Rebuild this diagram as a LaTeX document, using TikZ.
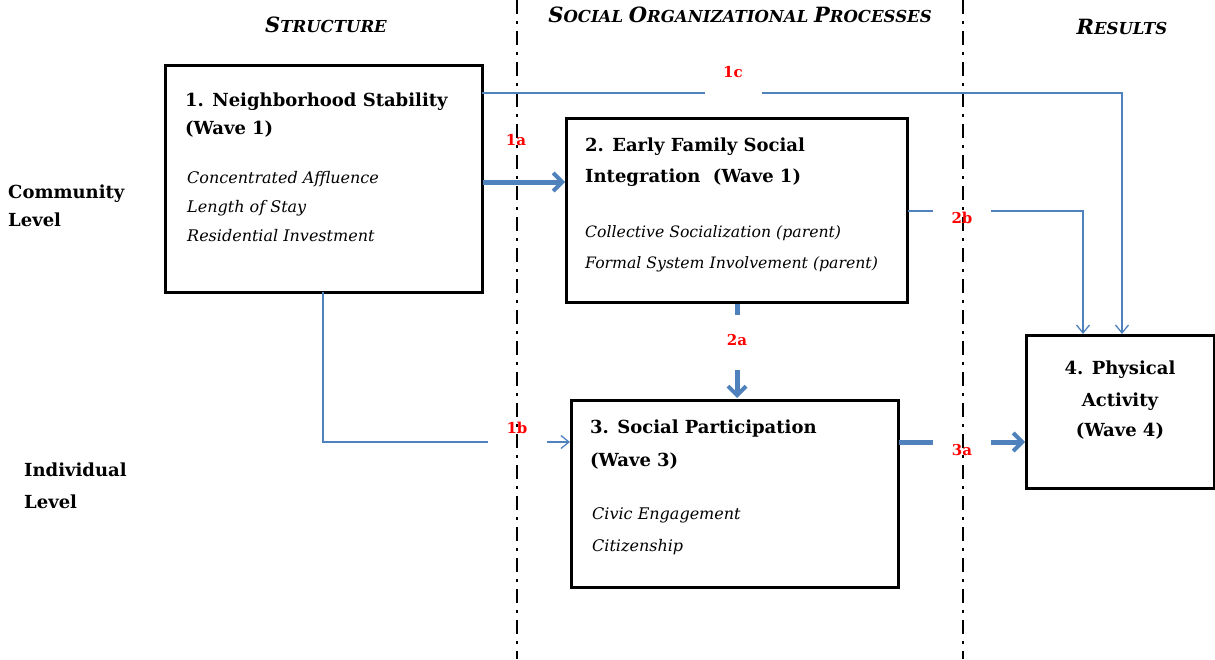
\documentclass[tikz,border=0pt]{standalone}
\usepackage{fontspec}
\setmainfont{DejaVu Serif}
\usetikzlibrary{arrows.meta}
\definecolor{lblue}{HTML}{4F81BD}
\newcommand{\hdrcap}[1]{{\fontsize{21}{22}\selectfont #1}}
\begin{document}
\begin{tikzpicture}[x=1pt,y=-1pt,
  box/.style={draw=black,line width=3pt},
  thin/.style={draw=lblue,line width=1.3pt},
  thinarr/.style={thin,-{Straight Barb[length=8,width=13,line width=1.3pt]}},
  thick/.style={draw=lblue,line width=5pt},
  thickarr/.style={thick,-{Straight Barb[length=9,width=18,line width=4pt]}},
  lab/.style={text=red,font=\fontsize{15}{17}\selectfont\bfseries,inner sep=0pt},
  btxt/.style={font=\fontsize{18}{20}\selectfont\bfseries,anchor=base west,inner sep=0pt},
  itxt/.style={font=\fontsize{16}{18}\selectfont\itshape,anchor=base west,inner sep=0pt},
  hdr/.style={font=\fontsize{16.5}{18}\selectfont\bfseries\itshape,inner sep=0pt,anchor=base},
  divider/.style={draw=black,line width=1.4pt,dash pattern=on 14pt off 7pt on 3pt off 7pt}
]
\useasboundingbox (0,0) rectangle (1215,659);
% dividers
\draw[divider] (517,0) -- (517,659);
\draw[divider] (963,0) -- (963,659);
% headers
\node[hdr] (h1) at (326,32) {\hdrcap{S}TRUCTURE};
\node[hdr] (h2) at (740,22) {\hdrcap{S}OCIAL \hdrcap{O}RGANIZATIONAL \hdrcap{P}ROCESSES};
\node[hdr] (h3) at (1122,34) {\hdrcap{R}ESULTS};
% level labels
\node[btxt] (cl1) at (8,198) {Community};
\node[btxt] (cl2) at (8,226) {Level};
\node[btxt] (il1) at (24,476) {Individual};
\node[btxt] (il2) at (24,508) {Level};
% boxes
\draw[box,fill=white] (165,65) rectangle (482,292);
\node[btxt] (t1a) at (185,106) {1. Neighborhood Stability};
\node[btxt] (t1b) at (185,134) {(Wave 1)};
\node[itxt] (i1a) at (187,183) {Concentrated Affluence};
\node[itxt] (i1b) at (187,212) {Length of Stay};
\node[itxt] (i1c) at (187,241) {Residential Investment};

\draw[box,fill=white] (566,118) rectangle (907,302);
\node[btxt] (t2a) at (585,151) {2. Early Family Social};
\node[btxt] (t2b) at (585,182) {Integration\ \ (Wave 1)};
\node[itxt,font=\fontsize{15.7}{18}\selectfont\itshape] (i2a) at (585,237) {Collective Socialization (parent)};
\node[itxt,font=\fontsize{15.7}{18}\selectfont\itshape] (i2b) at (585,268) {Formal System Involvement (parent)};

\draw[box,fill=white] (571,400) rectangle (898,587);
\node[btxt] (t3a) at (590,433) {3. Social Participation};
\node[btxt] (t3b) at (590,466) {(Wave 3)};
\node[itxt] (i3a) at (592,519) {Civic Engagement};
\node[itxt] (i3b) at (592,551) {Citizenship};

\draw[box,fill=white] (1026,335) rectangle (1214,488);
\node[btxt,anchor=base] (t4a) at (1120,374) {4. Physical};
\node[btxt,anchor=base] (t4b) at (1120,406) {Activity};
\node[btxt,anchor=base] (t4c) at (1120,436) {(Wave 4)};

% named anchor coordinates
\coordinate (b1r1c) at (482,93);
\coordinate (b1r1a) at (483,182);
\coordinate (b2l1a) at (565,182);
\coordinate (b1b) at (323,292);
\coordinate (b3l) at (570,442);
\coordinate (b2b) at (737,304);
\coordinate (b3t) at (737,398);
\coordinate (b2r) at (908,211);
\coordinate (b4t2b) at (1083,334);
\coordinate (b4t1c) at (1122,334);
\coordinate (b3r) at (899,442);
\coordinate (b4l) at (1025,442);

% labels
\node[lab] (l1c) at (733,72) {1c};
\node[lab] (l1a) at (516,140) {1a};
\node[lab] (l1b) at (517,428) {1b};
\node[lab] (l2a) at (737,340) {2a};
\node[lab] (l2b) at (962,218) {2b};
\node[lab] (l3a) at (962,450) {3a};

% connectors
\draw[thin] (b1r1c) -- (705,93);
\draw[thinarr] (762,93) -| (b4t1c);
\draw[thickarr] (b1r1a) -- (b2l1a);
\draw[thin] (b1b) |- (488,442);
\draw[thinarr] (547,442) -- (b3l);
\draw[thick] (b2b) -- (737,315);
\draw[thickarr] (737,370) -- (b3t);
\draw[thin] (b2r) -- (933,211);
\draw[thinarr] (991,211) -| (b4t2b);
\draw[thick] (b3r) -- (933,442);
\draw[thickarr] (991,442) -- (b4l);
\end{tikzpicture}
\end{document}
